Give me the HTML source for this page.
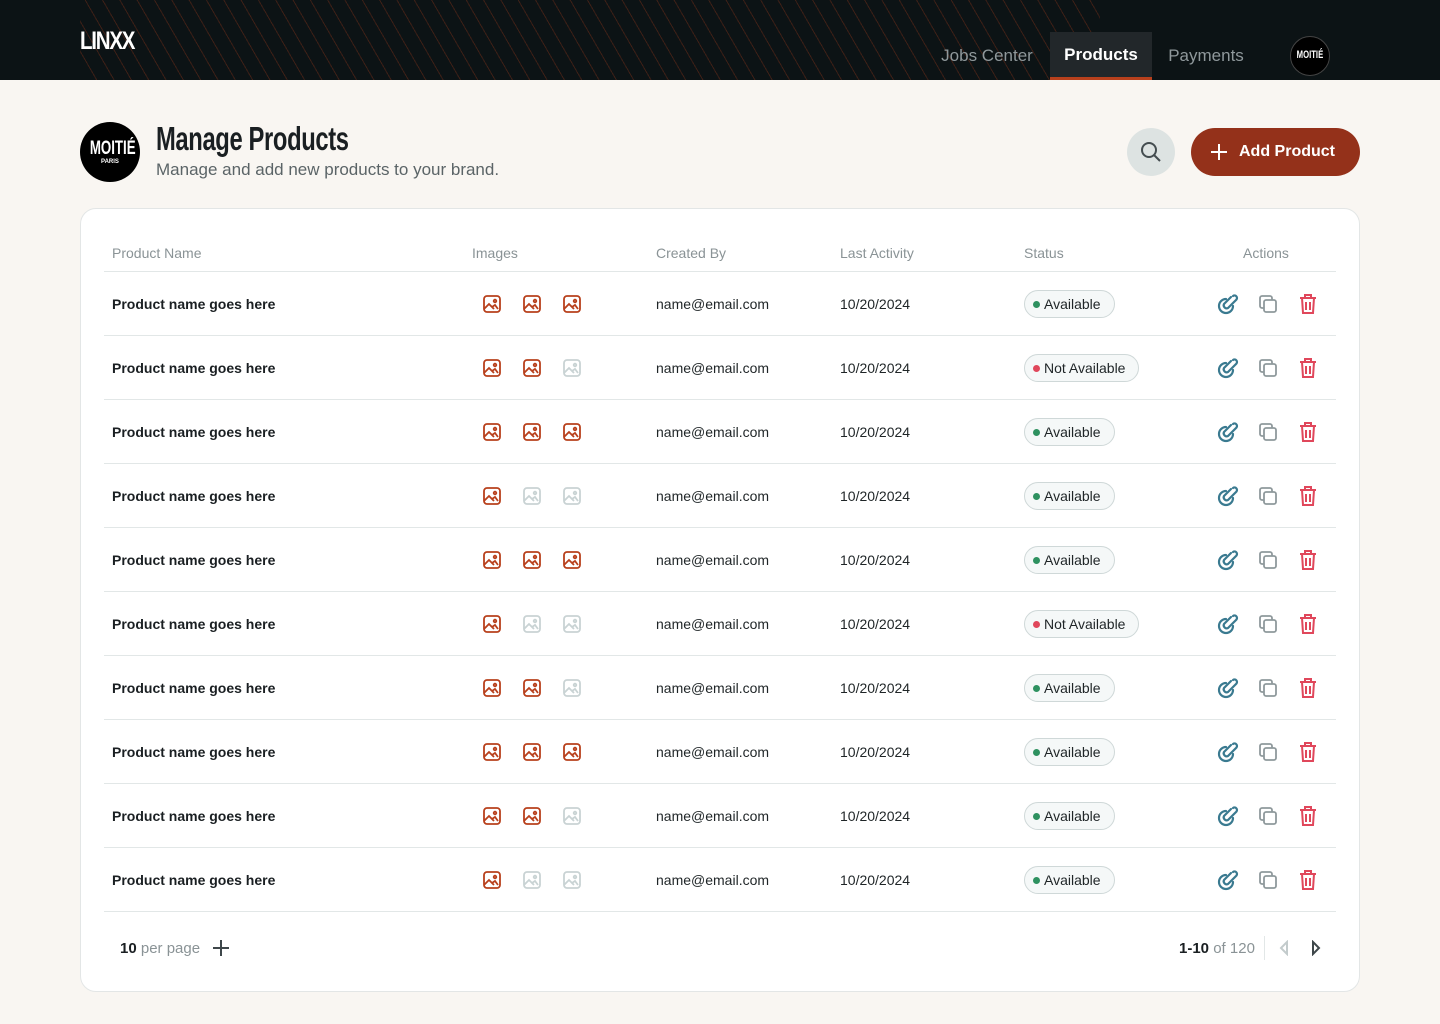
<!DOCTYPE html>
<html><head><meta charset="utf-8"><style>
*{margin:0;padding:0;box-sizing:border-box}
body{width:1440px;height:1024px;background:#f9f6f2;font-family:"Liberation Sans",sans-serif;position:relative;overflow:hidden;color:#1a1f22}
.nav{position:absolute;left:0;top:0;width:1440px;height:80px;background:#0c1315;overflow:hidden}
.nav .lines{position:absolute;left:80px;top:0;width:1020px;height:80px;background:repeating-linear-gradient(60deg,transparent 0 14px,rgba(150,55,25,.35) 14px 15px)}
.logo{position:absolute;left:80px;top:27px;color:#fff;font:bold 25px "Liberation Sans",sans-serif;letter-spacing:-1.5px;transform:scaleX(.82);transform-origin:left}
.tab{position:absolute;top:32px;height:48px;line-height:48px;font-size:17px;color:#8f989b;text-align:center}
.tab.act{background:#22272a;color:#fff;font-weight:bold;border-bottom:3px solid #b8401c;line-height:46px}
.circ{position:absolute;border-radius:50%;background:#000;color:#fff;text-align:center;font-weight:bold}
.circ span{display:inline-block;transform:scaleX(.7)}
.abs{position:absolute;white-space:nowrap}
.card{position:absolute;left:80px;top:208px;width:1280px;height:784px;background:#fff;border:1px solid #e3e6e6;border-radius:16px}
.hd{font-size:14px;color:#8a9396}
.line{position:absolute;left:104px;width:1232px;height:1px;background:#e2e7e7}
.pn{font-size:14px;font-weight:bold;color:#1a1f22}
.tx{font-size:14px;color:#1f2527}
.pill{position:absolute;height:28px;border:1px solid #cfd8d8;border-radius:14px;background:#f5f8f8;font-size:14px;line-height:26px;padding:0 13px 0 19px;color:#1f2527}
.pill i{position:absolute;left:8px;top:10px;width:7px;height:7px;border-radius:50%}
svg.ic{position:absolute}
</style></head><body>
<div class="nav"><div class="lines"></div>
<div class="logo">LINXX</div>
<div class="tab" style="left:924px;width:126px">Jobs Center</div>
<div class="tab act" style="left:1050px;width:102px">Products</div>
<div class="tab" style="left:1152px;width:108px">Payments</div>
<div class="circ" style="left:1290px;top:36px;width:40px;height:40px;border:1px solid #444;font-size:11px;line-height:36px"><span>MOITIÉ</span></div>
</div>
<div class="circ" style="left:80px;top:122px;width:60px;height:60px;font-size:19px;padding-top:18px;line-height:18px"><span>MOITIÉ</span><div style="font-size:6px;line-height:8px">PARIS</div></div>
<div class="abs" style="left:156px;top:120px;font:bold 33px 'Liberation Sans',sans-serif;color:#1a1f22;letter-spacing:-0.5px;transform:scaleX(.72);transform-origin:left">Manage Products</div>
<div class="abs" style="left:156px;top:160px;font-size:17px;color:#5b6467">Manage and add new products to your brand.</div>
<div class="abs" style="left:1127px;top:128px;width:48px;height:48px;border-radius:50%;background:#dde3e2"></div>
<svg class="ic" style="left:1139px;top:140px" width="24" height="24" viewBox="0 0 24 24" fill="none" stroke="#444d50" stroke-width="2"><circle cx="10" cy="10" r="7"/><path d="M15 15l6 6"/></svg>
<div class="abs" style="left:1191px;top:128px;width:169px;height:48px;border-radius:24px;background:#94311a;color:#fff;font-size:16px;font-weight:bold;line-height:48px;padding-left:48px">Add Product</div>
<svg class="ic" style="left:1209px;top:142px" width="20" height="20" viewBox="0 0 20 20" stroke="#fff" stroke-width="2"><path d="M10 2v16M2 10h16"/></svg>
<div class="card"></div>
<div class="abs hd" style="left:112px;top:245px">Product Name</div>
<div class="abs hd" style="left:472px;top:245px">Images</div>
<div class="abs hd" style="left:656px;top:245px">Created By</div>
<div class="abs hd" style="left:840px;top:245px">Last Activity</div>
<div class="abs hd" style="left:1024px;top:245px">Status</div>
<div class="abs hd" style="left:1243px;top:245px">Actions</div>
<div class="line" style="top:271px"></div>
<div id="rows"></div>
<div class="abs" style="left:120px;top:940px;font-size:15px"><b>10</b> <span style="color:#8a9396">per page</span></div>
<svg class="ic" style="left:212px;top:939px" width="18" height="18" viewBox="0 0 18 18" stroke="#3e474a" stroke-width="2"><path d="M9 1v16M1 9h16"/></svg>
<div class="abs" style="left:1179px;top:940px;font-size:15px"><b>1-10</b> <span style="color:#8a9396">of 120</span></div>
<div class="abs" style="left:1264px;top:936px;width:1px;height:24px;background:#e2e7e7"></div>
<svg class="ic" style="left:1278px;top:940px" width="12" height="16" viewBox="0 0 12 16" fill="none" stroke="#c3cbcc" stroke-width="2"><path d="M9 2L3 8l6 6z"/></svg>
<svg class="ic" style="left:1310px;top:940px" width="12" height="16" viewBox="0 0 12 16" fill="none" stroke="#3e474a" stroke-width="2"><path d="M3 2l6 6-6 6z"/></svg>
<script>
var imgs=["111","110","111","100","111","100","110","111","110","100"],na=[0,1,0,0,0,1,0,0,0,0],h="";
function img(x,y,on){var c=on?"#b8401c":"#c9d3d4";return '<svg class="ic" style="left:'+(x-10)+'px;top:'+(y-10)+'px" width="20" height="20" viewBox="0 0 20 20" fill="none" stroke="'+c+'" stroke-width="1.8"><rect x="2" y="2" width="16" height="16" rx="3"/><circle cx="13" cy="7" r="1.3"/><path d="M2 15l5-5 5 5 M10 13l3-2 3 4"/></svg>'}
for(var i=0;i<10;i++){var y=304+i*64;
h+='<div class="abs pn" style="left:112px;top:'+(y-8)+'px">Product name goes here</div>';
for(var k=0;k<3;k++)h+=img(492+40*k,y,imgs[i][k]=="1");
h+='<div class="abs tx" style="left:656px;top:'+(y-8)+'px">name@email.com</div>';
h+='<div class="abs tx" style="left:840px;top:'+(y-8)+'px">10/20/2024</div>';
h+='<div class="pill" style="left:1024px;top:'+(y-14)+'px"><i style="background:'+(na[i]?"#e0475b":"#2e9160")+'"></i>'+(na[i]?"Not Available":"Available")+'</div>';
h+='<svg class="ic" style="left:1217px;top:'+(y-11)+'px" width="22" height="22" viewBox="0 0 22 22" fill="none" stroke="#3a7a90" stroke-width="2.2" stroke-linecap="round"><path d="M16 3a2.5 2.5 0 013.5 3.5L11 15a3 3 0 01-4-4l7-7"/><path d="M9 6A7 7 0 1016 13"/></svg>';
h+='<svg class="ic" style="left:1258px;top:'+(y-10)+'px" width="20" height="20" viewBox="0 0 20 20" fill="none" stroke="#8f999c" stroke-width="1.8"><rect x="6" y="6" width="12" height="12" rx="2"/><path d="M14 6V4a2 2 0 00-2-2H4a2 2 0 00-2 2v8a2 2 0 002 2h2"/></svg>';
h+='<svg class="ic" style="left:1298px;top:'+(y-11)+'px" width="20" height="22" viewBox="0 0 20 22" fill="none" stroke="#e0475b" stroke-width="2"><path d="M2 5h16M7 5V2h6v3M4 5l1 15h10l1-15M8 9v8M12 9v8"/></svg>';
h+='<div class="line" style="top:'+(y+31)+'px"></div>';}
document.getElementById("rows").innerHTML=h;
</script>
</body></html>
